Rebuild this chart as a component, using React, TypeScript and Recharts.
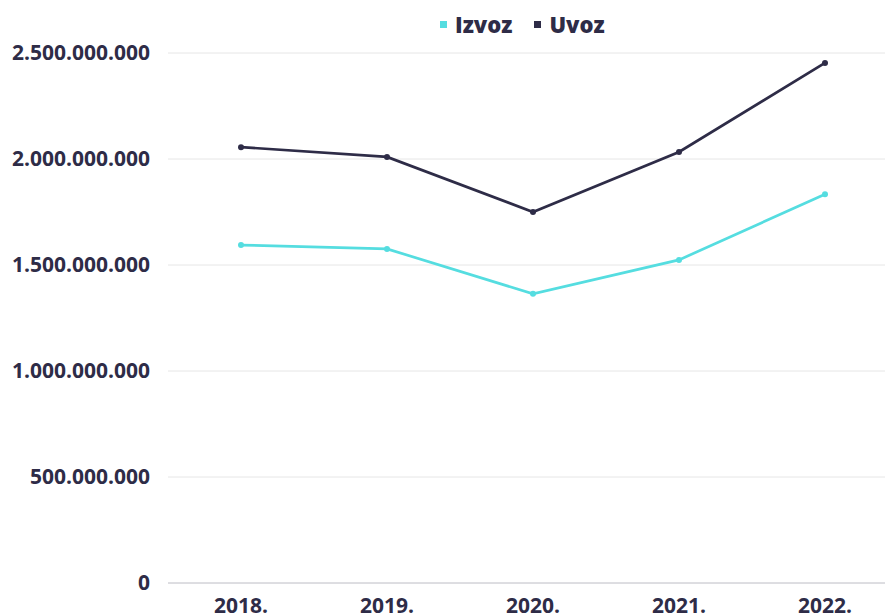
import React from "react";
import { LineChart, Line, XAxis, YAxis, CartesianGrid } from "recharts";

const years = ["2018.", "2019.", "2020.", "2021.", "2022."];
const izvoz = [1594000000, 1576000000, 1364000000, 1524000000, 1834000000];
const uvoz = [2056000000, 2010000000, 1750000000, 2033000000, 2453000000];
const yTicks = [0, 500000000, 1000000000, 1500000000, 2000000000, 2500000000];

const data = years.map((y, i) => ({ year: y, Izvoz: izvoz[i], Uvoz: uvoz[i] }));

const INK = "#2e2c47";
const CYAN = "#55dde0";
const FONT = "'Open Sans', sans-serif";

const fmt = (v: number) => v.toString().replace(/\B(?=(\d{3})+(?!\d))/g, ".");

function ChartLegend() {
  const items = [
    { name: "Izvoz", color: CYAN },
    { name: "Uvoz", color: INK },
  ];
  return (
    <div
      style={{
        position: "absolute",
        top: 10,
        left: 440,
        display: "flex",
        gap: 22,
        fontFamily: FONT,
        fontWeight: 800,
        fontSize: 22,
        lineHeight: "29px",
        color: INK,
      }}
    >
      {items.map((it) => (
        <span key={it.name} style={{ display: "flex", alignItems: "center" }}>
          <span style={{ width: 7, height: 7, background: it.color, marginRight: 8, display: "inline-block" }} />
          {it.name}
        </span>
      ))}
    </div>
  );
}

export default function App() {
  return (
    <div style={{ position: "absolute", left: 0, top: 0, width: 885, height: 615, overflow: "hidden", background: "#fff" }}>
      <LineChart width={900} height={640} data={data} margin={{ top: 53, right: 2, left: 0, bottom: 0 }}>
        <CartesianGrid vertical={false} stroke="#e6e6e6" />
        <XAxis
          dataKey="year"
          height={57}
          padding={{ left: 73, right: 73 }}
          axisLine={{ stroke: "#c8c8d0" }}
          tickLine={false}
          tickMargin={9}
          tick={{ fill: INK, fontSize: 21, fontWeight: 700, fontFamily: FONT }}
        />
        <YAxis
          width={168}
          domain={[0, 2500000000]}
          ticks={yTicks}
          tickFormatter={fmt}
          axisLine={false}
          tickLine={false}
          tickMargin={12}
          tick={{ fill: INK, fontSize: 21, fontWeight: 700, fontFamily: FONT }}
        />
        <Line dataKey="Izvoz" stroke={CYAN} strokeWidth={2.7} dot={{ r: 3, fill: CYAN, stroke: CYAN, strokeWidth: 0 }} isAnimationActive={false} />
        <Line dataKey="Uvoz" stroke={INK} strokeWidth={2.7} dot={{ r: 3, fill: INK, stroke: INK, strokeWidth: 0 }} isAnimationActive={false} />
      </LineChart>
      <ChartLegend />
    </div>
  );
}
